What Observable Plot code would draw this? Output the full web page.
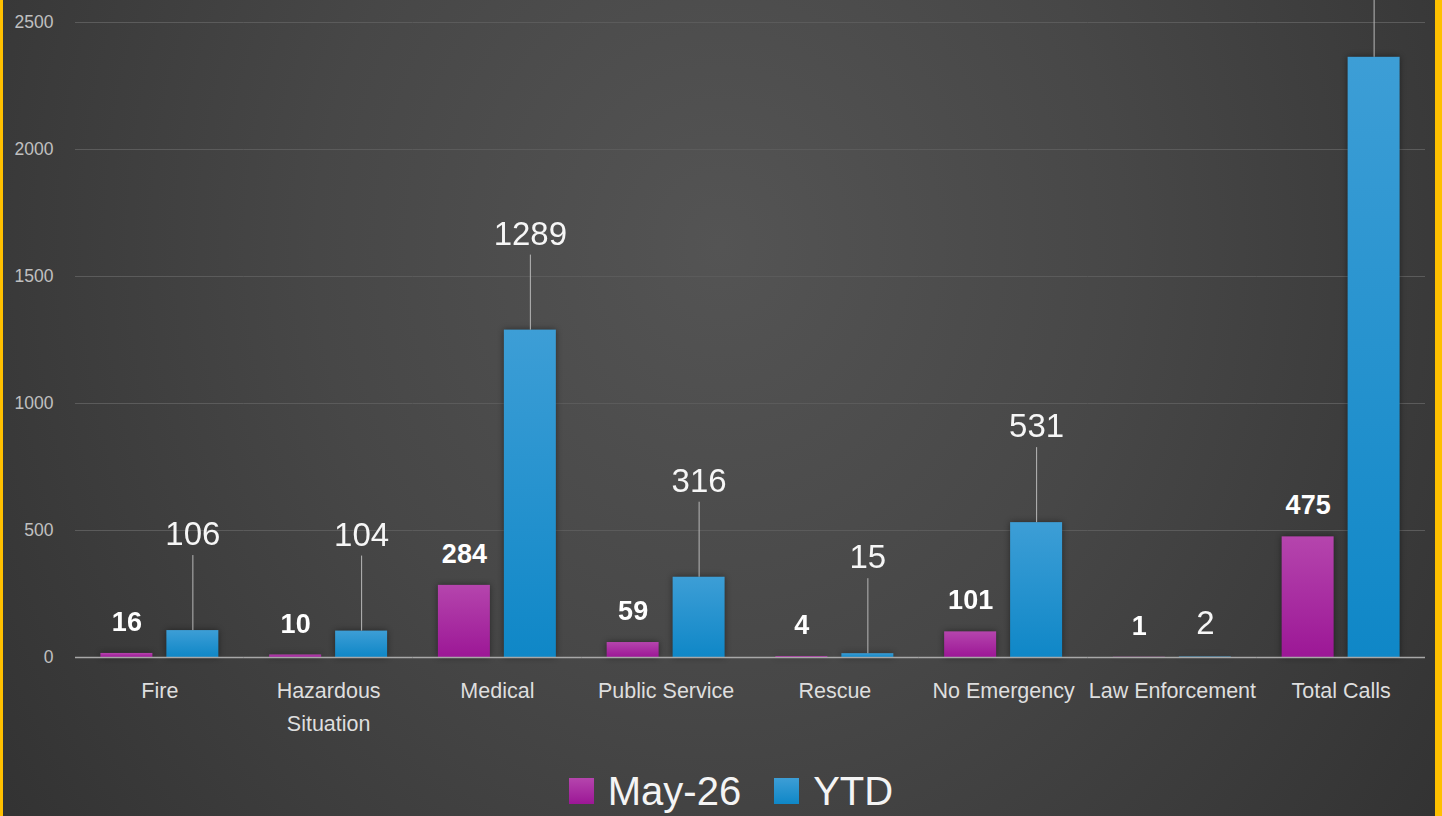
<!DOCTYPE html>
<html><head><meta charset="utf-8">
<script src="https://cdn.jsdelivr.net/npm/d3@7"></script>
<script src="https://cdn.jsdelivr.net/npm/@observablehq/plot@0.6"></script>
<style>
html,body{margin:0;padding:0;width:1442px;height:816px;overflow:hidden;}
body{position:relative;background:radial-gradient(ellipse 70% 140% at 50% 30%, #545454 0%, #474747 40%, #2d2d2d 100%);font-family:"Liberation Sans",Arial,sans-serif;}
.border-l{position:absolute;left:0;top:0;bottom:0;width:3px;background:#ffc000;}
.border-r{position:absolute;right:0;top:0;bottom:0;width:7px;background:#ffc000;}
#legend{height:72px;display:flex;align-items:center;justify-content:center;padding-left:20px;color:#f4f4f4;font-size:40px;}
#legend .item{display:flex;align-items:center;}
#legend .sw{width:25px;height:26px;margin-right:14px;}
#legend .item + .item{margin-left:33px;}
#chart g[aria-label="bar"]{filter:drop-shadow(0 0 3px rgba(0,0,0,0.45));}
</style></head>
<body>
<div id="chart"></div>
<div id="legend"></div>
<div class="border-l"></div><div class="border-r"></div>
<script>
const categories = ["Fire","Hazardous Situation","Medical","Public Service","Rescue","No Emergency","Law Enforcement","Total Calls"];
const seriesNames = ["May-26","YTD"];
const may26Values = [16,10,284,59,4,101,1,475];
const ytdValues = [106,104,1289,316,15,531,2,2363];
const yTicks = [0,500,1000,1500,2000,2500];

const mayRows = categories.map((c,i)=>({category:c, series:seriesNames[0], value:may26Values[i]}));
const ytdRows = categories.map((c,i)=>({category:c, series:seriesNames[1], value:ytdValues[i]}));

const plotTop = 22, plotBottom = 657;
const unitsPerPx = 2500 / (plotBottom - plotTop);
const leaderUnits = 75 * unitsPerPx;
const liftUnits = 100 * unitsPerPx;

const ytdLead = ytdRows.filter(d=>d.value >= 10);   // labels moved up with leader lines
const ytdNear = ytdRows.filter(d=>d.value < 10);    // labels in default position
const ytdLeadShown = ytdLead.filter(d=>d.value + liftUnits < 2500); // the top one lies above the picture

const svg = Plot.plot({
  width:1442, height:755,
  marginLeft:75, marginRight:17, marginTop:plotTop, marginBottom:755-plotBottom,
  style:{background:"transparent", color:"#d9d9d9", fontFamily:"'Liberation Sans', Arial, sans-serif", overflow:"visible"},
  fx:{domain:categories, padding:0, round:false, label:null, axis:null},
  x:{domain:seriesNames, paddingInner:0.212, paddingOuter:0.385, round:false, axis:null},
  y:{domain:[0,2500], axis:null},
  marks:[
    Plot.gridY(yTicks, {stroke:"#5b5b5b", strokeOpacity:1}),
    Plot.axisY(yTicks, {tickSize:0, tickPadding:22, fontSize:17.5, fill:"#c0c0c0", label:null, tickFormat:d=>String(d)}),
    Plot.axisFx({anchor:"bottom", tickSize:0, tickPadding:18, fontSize:21.5, lineWidth:8.5, lineHeight:1.5, fill:"#dedede", label:null}),
    Plot.barY(mayRows, {fx:"category", x:"series", y:"value", fill:"url(#gMay)"}),
    Plot.barY(ytdRows, {fx:"category", x:"series", y:"value", fill:"url(#gYtd)"}),
    Plot.ruleY([0], {stroke:"#a8a8a8", strokeWidth:1.5}),
    Plot.ruleX(ytdLead, {fx:"category", x:"series", y1:"value", y2:d=>d.value+leaderUnits, stroke:"#b8b8b8", strokeWidth:1}),
    Plot.text(mayRows, {fx:"category", x:"series", y:"value", text:d=>String(d.value), dy:-31, fill:"#ffffff", fontWeight:"bold", fontSize:27}),
    Plot.text(ytdLeadShown, {fx:"category", x:"series", y:"value", text:d=>String(d.value), dy:-96, fill:"#f6f6f6", fontSize:33}),
    Plot.text(ytdNear, {fx:"category", x:"series", y:"value", text:d=>String(d.value), dy:-34, fill:"#f6f6f6", fontSize:33})
  ]
});

const defs = d3.select(svg).insert("defs", ":first-child");
function grad(id, top, bottom){
  const g = defs.append("linearGradient").attr("id", id).attr("x1",0).attr("y1",0).attr("x2",0).attr("y2",1);
  g.append("stop").attr("offset","0%").attr("stop-color", top);
  g.append("stop").attr("offset","100%").attr("stop-color", bottom);
}
grad("gMay", "#b545ad", "#9c1796");
grad("gYtd", "#3d9ed6", "#0f87c7");
document.getElementById("chart").appendChild(svg);

const legend = d3.select("#legend");
const swatches = {"May-26":"linear-gradient(#b545ad,#9c1796)", "YTD":"linear-gradient(#3d9ed6,#0f87c7)"};
seriesNames.forEach(s=>{
  const it = legend.append("div").attr("class","item");
  it.append("div").attr("class","sw").style("background", swatches[s]);
  it.append("span").text(s);
});
</script>
</body></html>
